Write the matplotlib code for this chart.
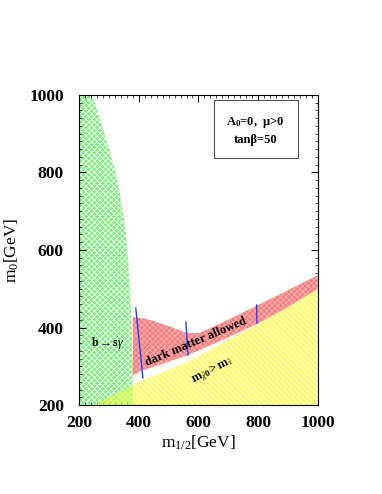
import matplotlib
matplotlib.use("Agg")
import matplotlib.pyplot as plt
from matplotlib.ticker import MultipleLocator

plt.rcParams['hatch.linewidth'] = 0.6
plt.rcParams['mathtext.fontset'] = 'custom'
plt.rcParams['mathtext.rm'] = 'Liberation Serif'
plt.rcParams['mathtext.it'] = 'Liberation Serif:italic'
plt.rcParams['mathtext.bf'] = 'Liberation Serif:bold'

# b -> s gamma excluded region boundary (m0 vs m1/2 edge)
bsg_m0 = [1000, 950, 900, 850, 800, 750, 700, 650, 600, 500, 400, 300, 200]
bsg_mhalf = [243, 265, 285, 305, 322, 336, 347, 356, 362, 371, 376, 379, 380]

# stau LSP region boundary (yellow)
stau_mhalf = [250, 380, 414, 565, 800, 1000]
stau_m0 = [200, 252, 264, 311, 410, 500]

# dark matter allowed strip
dm_upper_mhalf = [380, 420, 461, 520, 561, 605, 700, 800, 900, 1000]
dm_upper_m0 = [427, 423, 414, 398, 386, 386, 420, 458, 496, 535]
dm_lower_mhalf = [380, 414, 565, 700, 800, 900, 1000]
dm_lower_m0 = [277, 290, 329, 375, 411, 453, 500]

# blue lines
blue_lines = [((390, 450), (414, 270)), ((558, 414), (565, 329)), ((795, 458), (796, 411))]

fig = plt.figure(figsize=(3.82, 4.94), dpi=100)
ax = fig.add_axes([0.207, 0.180, 0.625, 0.628])
ax.set_xlim(200, 1000)
ax.set_ylim(200, 1000)

# green region
gx = [200] + bsg_mhalf + [200]
gy = [1000] + bsg_m0 + [200]
ax.fill(gx, gy, facecolor='#7ef07e', edgecolor='white', hatch='xxxxxx', lw=0, zorder=1)

# yellow region (outside green)
yx = [stau_mhalf[1]] + stau_mhalf[1:] + [1000]
yy = [200] + stau_m0[1:] + [200]
ax.fill(yx, yy, facecolor='#ffff70', edgecolor='white', hatch='\\\\\\\\\\\\', lw=0, zorder=2)
# yellow overlapping green
ox = [stau_mhalf[0], stau_mhalf[1], stau_mhalf[1]]
oy = [stau_m0[0], stau_m0[1], 200]
ax.fill(ox, oy, facecolor='#e0ff50', edgecolor='none', lw=0, alpha=0.65, zorder=2)

# red region
rx = dm_upper_mhalf + dm_lower_mhalf[::-1]
ry = dm_upper_m0 + dm_lower_m0[::-1]
ax.fill(rx, ry, facecolor='#f58080', edgecolor='#ffb0b0', hatch='xxxxxx', lw=0, zorder=3)

for (x1, y1), (x2, y2) in blue_lines:
    ax.plot([x1, x2], [y1, y2], color='#2040ff', lw=1.0, zorder=4)

ax.text(590, 362, 'dark matter allowed', rotation=23, ha='center', va='center',
        fontsize=9, fontweight='bold', family='Liberation Serif', zorder=5)
ax.text(648, 290, r'$\mathbf{m}_{\tilde{\chi}\mathbf{0}}\mathbf{>m}_{\tilde{\tau}}$', rotation=27,
        ha='center', va='center', fontsize=9, zorder=5)
ax.text(297, 360, r'b$\rightarrow$s$\gamma$', ha='center', va='center',
        fontsize=8.5, fontweight='bold', family='Liberation Serif', zorder=5)

# info box
ax.text(0.74, 0.886, 'A$_\\mathbf{0}$=0,  $\\mathbf{\\mu}$>0\ntanβ=50', transform=ax.transAxes,
        ha='center', va='center', fontsize=9, fontweight='bold', family='Liberation Serif',
        linespacing=1.45, zorder=6,
        bbox=dict(boxstyle='square,pad=1.0', facecolor='white', edgecolor='#555555', lw=0.8))

ax.xaxis.set_major_locator(MultipleLocator(200))
ax.yaxis.set_major_locator(MultipleLocator(200))
ax.xaxis.set_minor_locator(MultipleLocator(20))
ax.yaxis.set_minor_locator(MultipleLocator(20))
ax.tick_params(which='both', direction='in', top=True, right=True)
ax.tick_params(which='major', length=5, width=0.7, labelsize=12.5)
ax.tick_params(axis='x', which='major', pad=7)
ax.tick_params(axis='y', which='major', pad=11)
ax.tick_params(which='minor', length=2.5, width=0.5)
for lab in ax.get_xticklabels() + ax.get_yticklabels():
    lab.set_family('Liberation Serif')
    lab.set_fontweight('bold')
for s in ax.spines.values():
    s.set_linewidth(0.8)

ax.set_xlabel('m$_{1/2}$[GeV]', family='Liberation Serif', fontsize=12.5, labelpad=2)
ax.set_ylabel('m$_0$[GeV]', family='Liberation Serif', fontsize=12.5, labelpad=6)

fig.savefig('out.png', dpi=100)
